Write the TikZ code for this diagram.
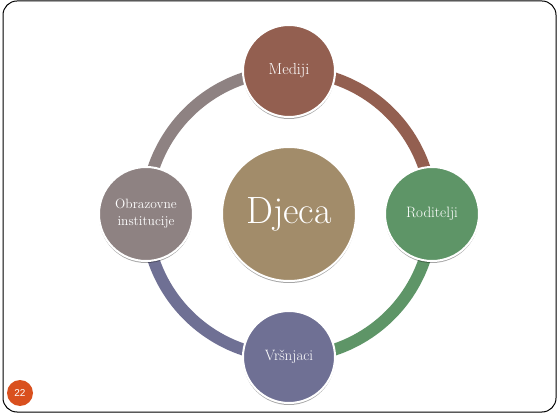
\documentclass[tikz,border=0pt]{standalone}
\usepackage{fontspec}
\newfontfamily\badgefont{Liberation Sans}
\usetikzlibrary{shadows}
\definecolor{medijicol}{RGB}{147,95,80}
\definecolor{roditeljicol}{RGB}{94,149,103}
\definecolor{vrsnjacicol}{RGB}{111,112,148}
\definecolor{obrazovnecol}{RGB}{142,130,130}
\definecolor{djecacol}{RGB}{162,140,106}
\definecolor{badgecol}{RGB}{217,80,30}
\tikzset{
  bubble/.style={circle, draw=white, line width=2pt, text=white, align=center,
    drop shadow={shadow xshift=0pt, shadow yshift=-2pt, opacity=0.35, fill=black}},
  ring/.style={line width=12pt}
}
\begin{document}
\begin{tikzpicture}[x=1pt,y=1pt]
                \useasboundingbox (0,0) rectangle (559,415);
                \draw[rounded corners=14pt, line width=1pt] (3,3) rectangle (556,414);

                \coordinate (C) at (289,201);
                \coordinate (M) at (289,344);
                \coordinate (R) at (432,201);
                \coordinate (V) at (289,58);
                \coordinate (O) at (146,201);

                \draw[ring, medijicol] (M) arc[start angle=90, end angle=0, radius=143];
                \draw[ring, roditeljicol] (R) arc[start angle=0, end angle=-90, radius=143];
                \draw[ring, vrsnjacicol] (V) arc[start angle=-90, end angle=-180, radius=143];
                \draw[ring, obrazovnecol] (O) arc[start angle=180, end angle=90, radius=143];

                \node[bubble, fill=djecacol, minimum size=134pt, font=\fontsize{38}{44}\selectfont] (djeca) at (C) {Djeca};
                \node[bubble, fill=medijicol, minimum size=92pt, font=\fontsize{16}{19}\selectfont] (mediji) at (M) {Mediji};
                \node[bubble, fill=roditeljicol, minimum size=94pt, font=\fontsize{15}{18}\selectfont] (roditelji) at (R) {Roditelji};
                \node[bubble, fill=vrsnjacicol, minimum size=92pt, font=\fontsize{15}{18}\selectfont] (vrsnjaci) at (V) {Vršnjaci};
                \node[bubble, fill=obrazovnecol, minimum size=94pt, font=\fontsize{13.5}{17}\selectfont] (obrazovne) at (O) {Obrazovne\\institucije};

                \node[circle, fill=badgecol, minimum size=26pt, inner sep=0pt, text=white, font=\badgefont\fontsize{10}{12}\selectfont] (badge) at (20,22) {22};
            \end{tikzpicture}
\end{document}
